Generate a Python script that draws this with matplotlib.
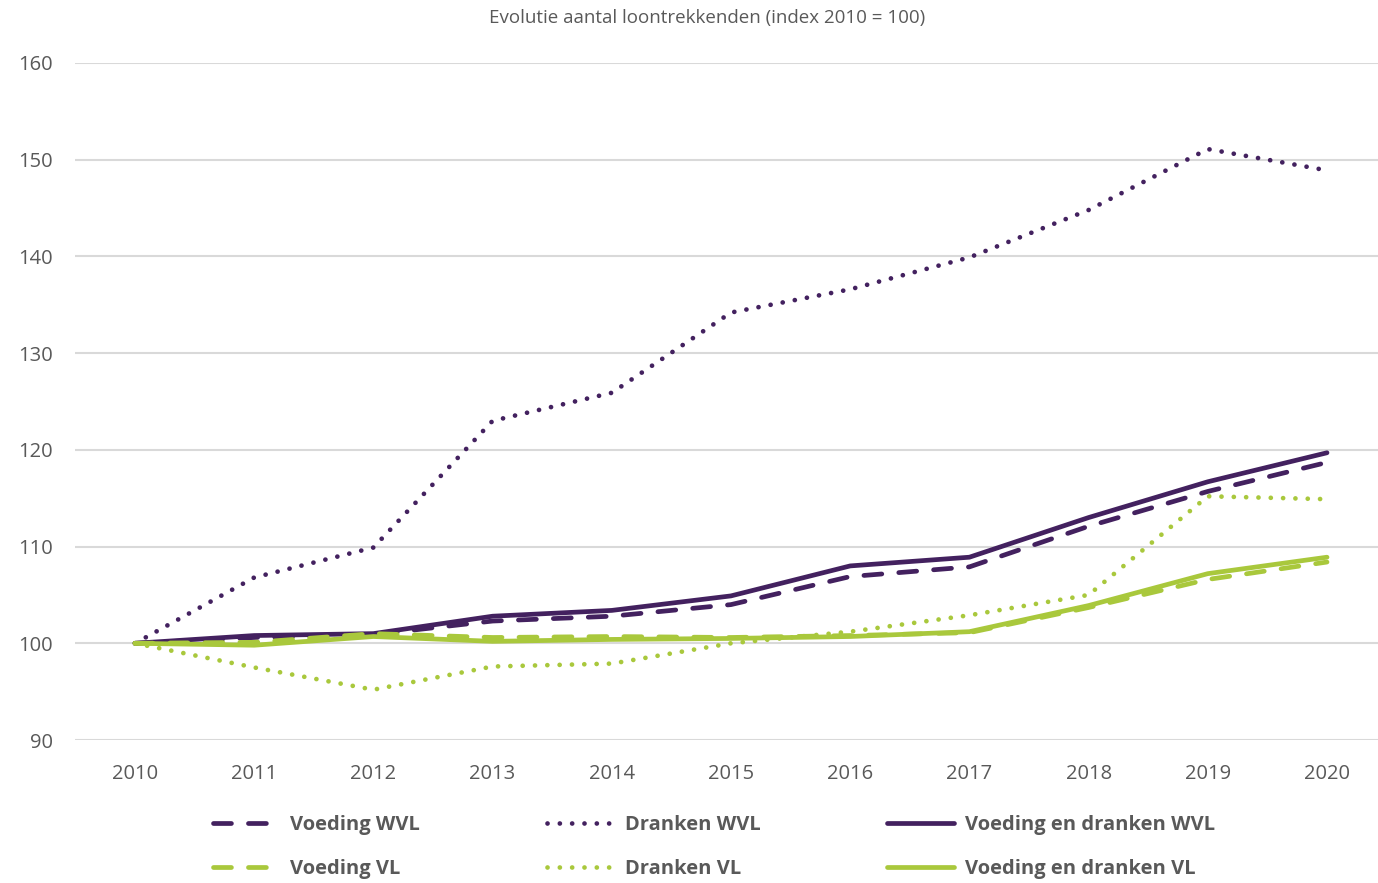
import matplotlib
matplotlib.use("AGG")
import matplotlib.pyplot as plt

# Gegevens (index 2010 = 100)
jaren = [2010, 2011, 2012, 2013, 2014, 2015, 2016, 2017, 2018, 2019, 2020]
voeding_wvl = [100, 100.6, 100.9, 102.3, 102.8, 104.0, 106.9, 107.9, 112.1, 115.7, 118.7]
dranken_wvl = [100, 106.8, 109.9, 123.0, 125.9, 134.2, 136.6, 139.9, 144.8, 151.1, 148.9]
vd_wvl = [100, 100.8, 101.0, 102.8, 103.4, 104.9, 108.0, 108.9, 113.0, 116.7, 119.7]
voeding_vl = [100, 100.1, 101.0, 100.6, 100.7, 100.6, 100.8, 101.1, 103.7, 106.6, 108.4]
dranken_vl = [100, 97.5, 95.2, 97.6, 97.9, 100.0, 101.2, 102.9, 105.0, 115.2, 114.9]
vd_vl = [100, 99.8, 100.7, 100.2, 100.4, 100.5, 100.7, 101.2, 103.9, 107.2, 108.9]

PAARS = "#43215f"
GROEN = "#a9c83c"

plt.rcParams["font.family"] = ["Open Sans", "DejaVu Sans"]

fig = plt.figure(figsize=(13.78, 8.83), dpi=100)
ax = fig.add_axes([75.4 / 1378, (883 - 740) / 883, 1311.2 / 1378, 677 / 883])

lw = 3.4
dash = dict(linestyle=(0, (3.8, 3.6)), dash_capstyle="round")
dot = dict(linestyle=(0, (0.01, 2.6)), dash_capstyle="round")

l1, = ax.plot(jaren, voeding_wvl, color=PAARS, lw=lw, label="Voeding WVL", **dash)
l2, = ax.plot(jaren, dranken_wvl, color=PAARS, lw=lw, label="Dranken WVL", **dot)
l3, = ax.plot(jaren, vd_wvl, color=PAARS, lw=lw, label="Voeding en dranken WVL",
              solid_capstyle="round")
l4, = ax.plot(jaren, voeding_vl, color=GROEN, lw=lw, label="Voeding VL", **dash)
l5, = ax.plot(jaren, dranken_vl, color=GROEN, lw=lw, label="Dranken VL", **dot)
l6, = ax.plot(jaren, vd_vl, color=GROEN, lw=lw, label="Voeding en dranken VL",
              solid_capstyle="round")

ax.set_xlim(2009.5, 2020.5)
ax.set_ylim(90, 160)
ax.set_xticks(jaren)
ax.set_yticks(range(90, 161, 10))
ax.grid(axis="y", color="#d9d9d9", lw=1.5)
ax.set_axisbelow(True)
for s in ax.spines.values():
    s.set_visible(False)
ax.tick_params(length=0, labelsize=14.5, labelcolor="#595959")
ax.tick_params(axis="x", pad=17)
ax.tick_params(axis="y", pad=16)

fig.text(707 / 1378, 1 - 18 / 883, "Evolutie aantal loontrekkenden (index 2010 = 100)",
         ha="center", va="center", fontsize=13.5, color="#595959")

handles = [l1, l4, l2, l5, l3, l6]
leg = fig.legend(handles=handles, labels=[h.get_label() for h in handles],
                 ncol=3, loc="center", bbox_to_anchor=(714 / 1378, 1 - 847 / 883),
                 frameon=False, handlelength=3.3, handletextpad=0.55,
                 columnspacing=6.3, labelspacing=1.15,
                 prop=dict(size=14.5, weight="bold"))
for t in leg.get_texts():
    t.set_color("#595959")

fig.savefig("out.png", dpi=100)
